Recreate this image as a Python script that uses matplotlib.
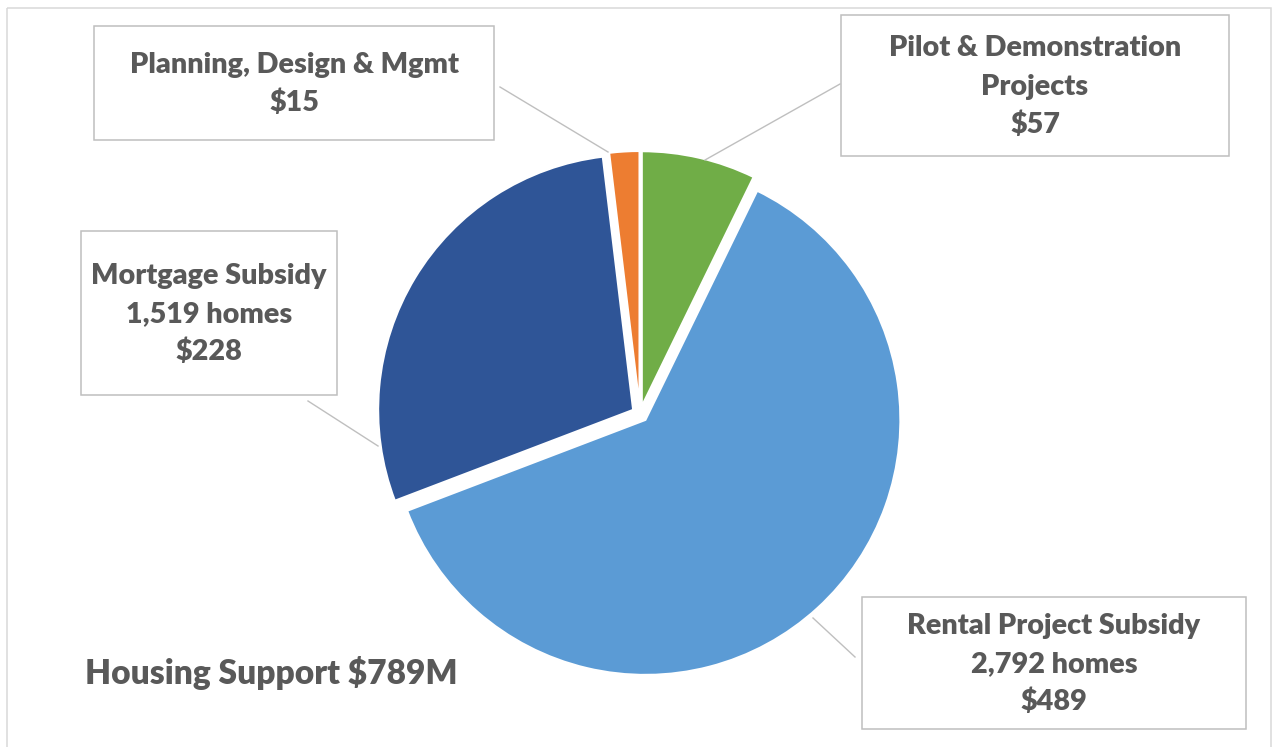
import matplotlib.pyplot as plt
from matplotlib.patches import Rectangle

# chart data
categories = ["Pilot & Demonstration\nProjects", "Rental Project Subsidy",
              "Mortgage Subsidy", "Planning, Design & Mgmt"]
homes = [None, "2,792 homes", "1,519 homes", None]
amounts = [57, 489, 228, 15]
colors = ["#70AD47", "#5B9BD5", "#2F5597", "#ED7D31"]
title = "Housing Support $789M"

# layout in pixels (x0, y0, x1, y1) for label boxes, and leader lines
boxes = [(841, 15, 1229, 156), (862, 597, 1246, 729),
         (81, 231, 337, 395), (94, 26, 494, 140)]
leaders = [((840, 84), (705, 160)), ((855, 657), (813, 618)),
           ((308, 401), (378, 446)), ((500, 87), (608, 152))]

W, H = 1276, 747
text_color = "#595959"
font = "Lato"
weight = "heavy"

fig = plt.figure(figsize=(W / 100, H / 100), dpi=100)
ax = fig.add_axes([0, 0, 1, 1])

# y axis is inverted so everything is in pixel coords, pie goes clockwise from top
# explode is in data units here (pixels), not a fraction
ax.pie(amounts, colors=colors, startangle=-90, counterclock=True,
       center=(640, 414), radius=255, explode=[8] * len(amounts),
       wedgeprops=dict(edgecolor="white", linewidth=1.5))
ax.set_xlim(0, W)
ax.set_ylim(H, 0)
ax.set_aspect("auto")
ax.axis("off")

renderer = fig.canvas.get_renderer()


def size_for_width(s, target_px):
    t = ax.text(0, 0, s, fontsize=20, family=font, weight=weight)
    w = t.get_window_extent(renderer).width
    t.remove()
    return 20 * target_px / w


label_size = size_for_width("Rental Project Subsidy", 293)
title_size = size_for_width(title, 372)

# outer frame
ax.add_patch(Rectangle((7, 8), 1264, 760, fill=False, edgecolor="#d9d9d9",
                       linewidth=1.1, clip_on=False))

line_gap = 38
for cat, hm, amt, box, lead in zip(categories, homes, amounts, boxes, leaders):
    x0, y0, x1, y1 = box
    ax.add_patch(Rectangle((x0, y0), x1 - x0, y1 - y0, facecolor="white",
                           edgecolor="#bfbfbf", linewidth=1.1))
    ax.plot([lead[0][0], lead[1][0]], [lead[0][1], lead[1][1]],
            color="#bfbfbf", linewidth=1.0)
    lines = cat.split("\n")
    if hm:
        lines.append(hm)
    lines.append("$%d" % amt)
    cx, cy = (x0 + x1) / 2, (y0 + y1) / 2
    n = len(lines)
    for i, s in enumerate(lines):
        yb = cy + (i - (n - 1) / 2) * line_gap + 9
        ax.text(cx, yb, s, ha="center", va="baseline", fontsize=label_size,
                family=font, weight=weight, color=text_color)

ax.text(85, 672 + 11.5, title, ha="left", va="baseline", fontsize=title_size,
        family=font, weight=weight, color=text_color)

fig.savefig("out.png", dpi=100)
